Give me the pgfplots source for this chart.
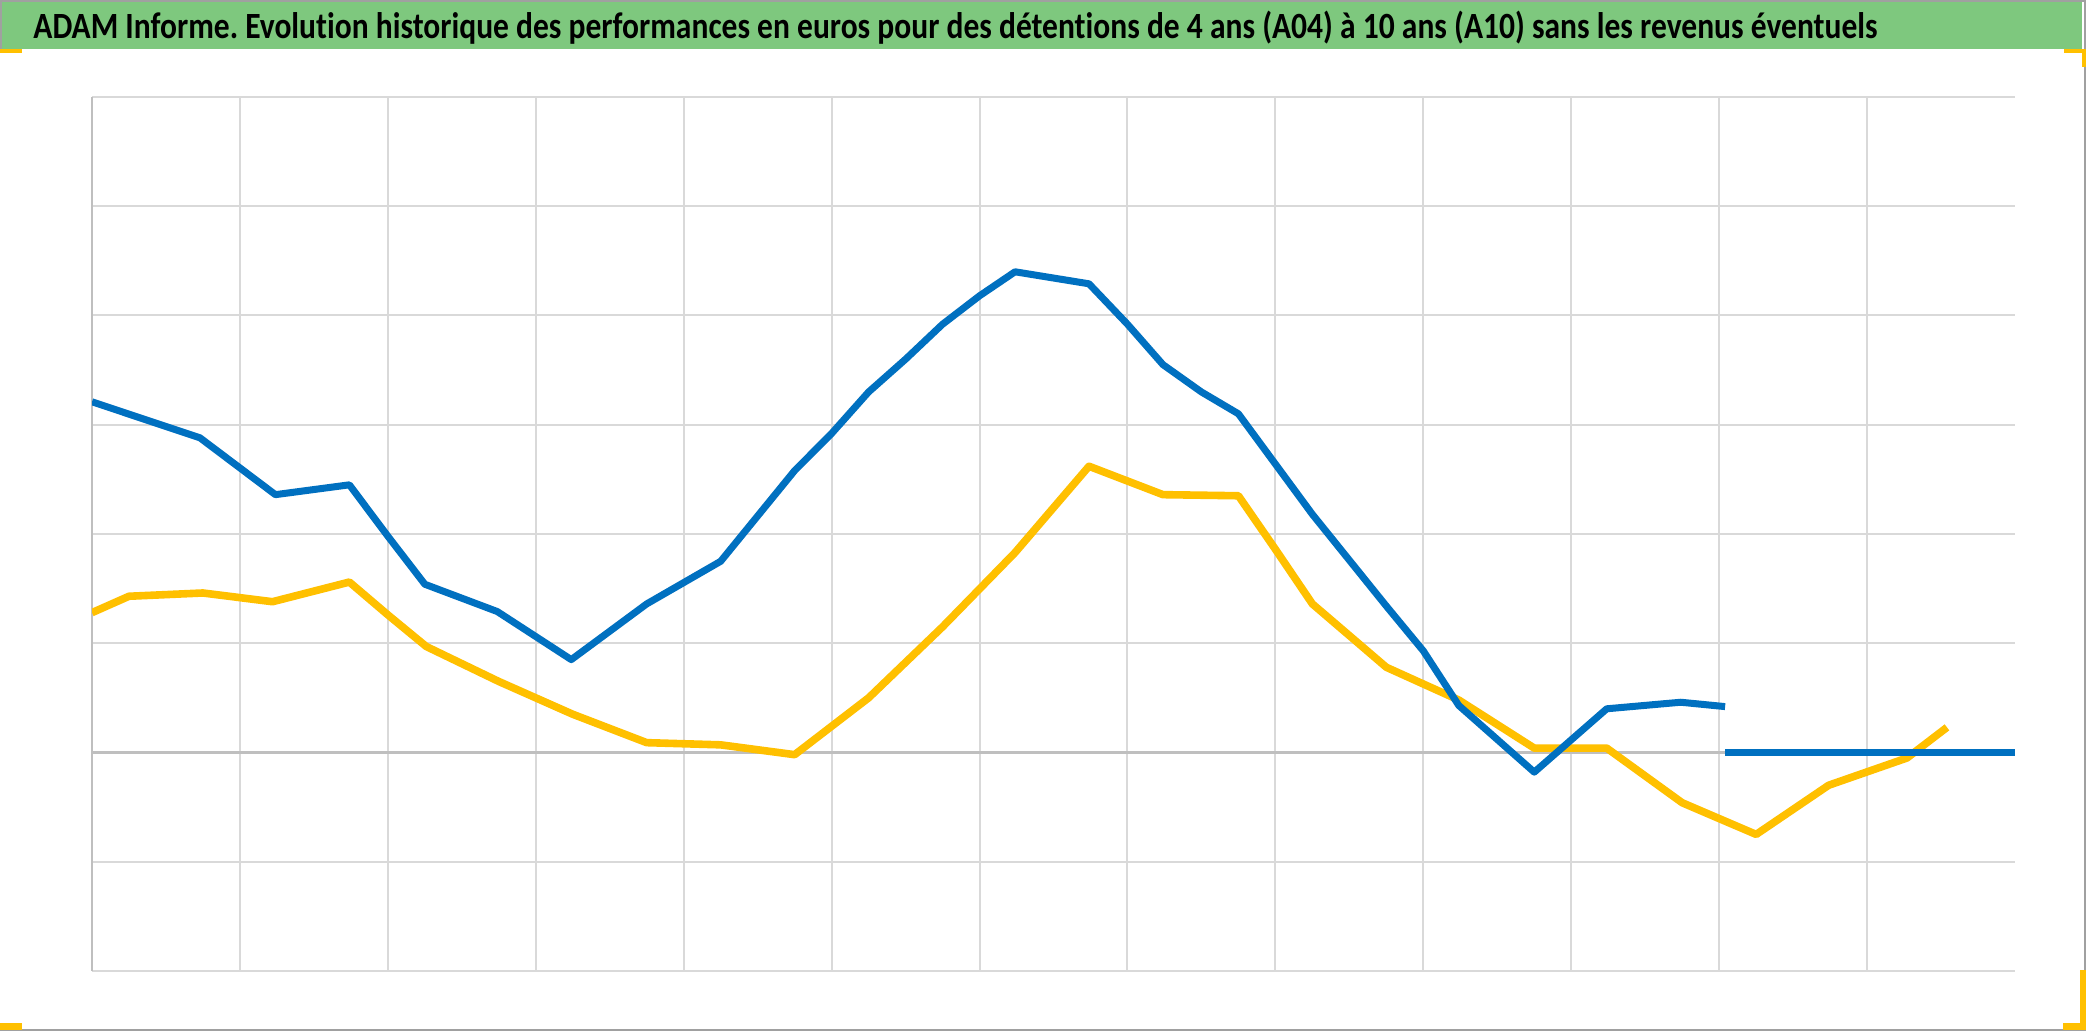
\documentclass[border=0pt]{standalone}
\usepackage{pgfplots}
\pgfplotsset{compat=1.18}
\usepackage{graphicx}
\usepackage{fontspec}
\setmainfont{Carlito}[Ligatures=NoCommon]
\frenchspacing
\definecolor{xlblue}{HTML}{0070C0}
\definecolor{xlyellow}{HTML}{FFC000}
\definecolor{gridgray}{HTML}{D9D9D9}
\definecolor{axgray}{HTML}{BFBFBF}
\definecolor{titlegreen}{HTML}{7EC87E}
\definecolor{bordergray}{HTML}{A0A0A0}
\begin{document}
\begin{tikzpicture}
\useasboundingbox (0,0) rectangle (1043pt,515.5pt);
\fill[white] (0,0) rectangle (1043pt,515.5pt);
\fill[titlegreen] (0,491pt) rectangle (1041pt,515.5pt);
\draw[bordergray, line width=1pt] (0.5pt,491pt) -- (0.5pt,515pt) -- (1042.5pt,515pt) -- (1042.5pt,0.5pt) -- (0,0.5pt);
\node[anchor=base west, inner sep=0pt] at (16.5pt,496pt)
  {\resizebox{922pt}{\height}{\fontsize{18.5}{22}\selectfont\bfseries ADAM Informe. Evolution historique des performances en euros pour des détentions de 4 ans (A04) à 10 ans (A10) sans les revenus éventuels}};
% selection handles
\fill[xlyellow] (0,489pt) rectangle (11pt,491pt);
\fill[xlyellow] (1032pt,489pt) rectangle (1043pt,491pt);
\fill[xlyellow] (1041pt,482pt) rectangle (1043pt,491pt);
\fill[xlyellow] (0,0.5pt) rectangle (11pt,4pt);
\fill[xlyellow] (1031.5pt,0.5pt) rectangle (1043pt,4pt);
\fill[xlyellow] (1040pt,0.5pt) rectangle (1043pt,30.5pt);
\begin{axis}[
  at={(46pt,30pt)}, anchor=south west,
  scale only axis, width=961.5pt, height=437pt,
  xmin=0, xmax=13, ymin=-2, ymax=6,
  axis line style={draw=none},
  xtick={1,...,12}, ytick={-2,-1,1,2,3,4,5,6},
  xticklabels={}, yticklabels={},
  major tick length=0pt,
  grid=major, grid style={gridgray, line width=1pt},
  extra x ticks={0}, extra y ticks={0},
  extra x tick labels={}, extra y tick labels={},
  extra tick style={grid style={axgray, line width=1.2pt}},
]
\addplot[xlyellow, line width=3.8pt, line join=round, no marks] coordinates {
(0,1.28) (0.25,1.43) (0.75,1.46) (1.22,1.38) (1.74,1.56) (2.0,1.26) (2.26,0.97)
(2.75,0.65) (3.25,0.35) (3.75,0.09) (4.25,0.07) (4.75,-0.02) (5.25,0.50)
(5.75,1.15) (6.24,1.83) (6.74,2.62) (7.24,2.36) (7.75,2.35) (8.0,1.86)
(8.25,1.36) (8.75,0.78) (9.24,0.48) (9.75,0.04) (10.24,0.04) (10.75,-0.46)
(11.25,-0.75) (11.74,-0.30) (12.27,-0.05) (12.54,0.23)
};
\addplot[xlyellow, line width=3.8pt, no marks] coordinates {(12.54,0) (13,0)};
\addplot[xlblue, line width=3.5pt, line join=round, no marks] coordinates {
(0,3.21) (0.73,2.88) (1.24,2.36) (1.74,2.45) (2.0,1.98) (2.25,1.54) (2.74,1.29)
(3.24,0.85) (3.75,1.36) (4.25,1.75) (4.75,2.58) (5.0,2.92) (5.25,3.30)
(5.5,3.60) (5.75,3.92) (6.0,4.18) (6.24,4.40) (6.74,4.29) (7.0,3.92)
(7.24,3.55) (7.5,3.30) (7.75,3.10) (8.0,2.64) (8.25,2.18) (8.75,1.34)
(9.0,0.93) (9.24,0.43) (9.75,-0.18) (10.24,0.40) (10.74,0.46) (11.04,0.42)
};
\addplot[xlblue, line width=3.5pt, no marks] coordinates {(11.04,0) (13,0)};
\end{axis}
\end{tikzpicture}
\end{document}
